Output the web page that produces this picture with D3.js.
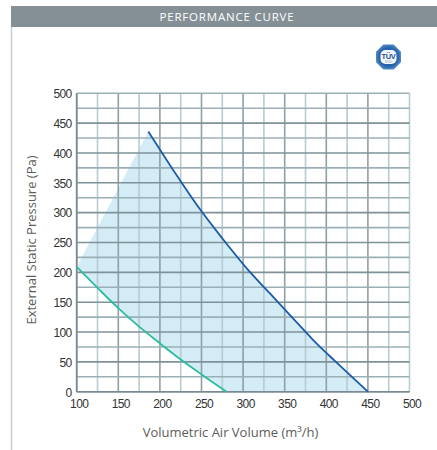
<!DOCTYPE html>
<html><head><meta charset="utf-8">
<script src="https://cdn.jsdelivr.net/npm/d3@7"></script>
<style>
html,body{margin:0;padding:0;background:#fff;}
svg{display:block;}
</style></head>
<body>
<svg id="chart" width="437" height="450"></svg>
<script>
const chartTitle = "PERFORMANCE CURVE";
const xTitle = "Volumetric Air Volume (m³/h)";
const yTitle = "External Static Pressure (Pa)";
const xTickLabels = [100,150,200,250,300,350,400,450,500];
const yTickLabels = [0,50,100,150,200,250,300,350,400,450,500];
const gridStep = 25;
// upper curve (max speed)
const maxFlow = [186,200,220,248,275,306,332,360,384,410,450];
const maxPressure = [436,406,363,306,257,204,165,123,87,52,0];
// lower curve (min speed)
const minFlow = [100,125,150,175,200,225,250,280];
const minPressure = [209,174,140,109,81,54,29,0];

(function(){
const svg = d3.select("#chart");
const W = 437, H = 450;
const pL = 76.7, pR = 409.5, pT = 93.3, pB = 391.7;

const x = d3.scaleLinear().domain([100,500]).range([pL,pR]);
const y = d3.scaleLinear().domain([0,500]).range([pB,pT]);

// header bar
svg.append("rect").attr("x",11).attr("y",6).attr("width",W-11).attr("height",21).attr("fill","#848f96");
svg.append("text").attr("x",227).attr("y",20.5).attr("text-anchor","middle")
  .attr("font-family","'Open Sans', sans-serif").attr("font-size",11.5).attr("fill","#fff")
  .attr("letter-spacing","0.8").text(chartTitle);
// left border
svg.append("line").attr("x1",11.5).attr("x2",11.5).attr("y1",27).attr("y2",H)
  .attr("stroke","#c5cdd1").attr("stroke-width",1.5);

// badge
const bx = 388.5, by = 57, br = 13.5;
const oct = d3.range(8).map(i => {
  const a = Math.PI/8 + i*Math.PI/4;
  return [bx + br*Math.cos(a), by + br*Math.sin(a)];
});
const defs = svg.append("defs");
const grad = defs.append("radialGradient").attr("id","bg").attr("cx","50%").attr("cy","50%").attr("r","55%");
grad.append("stop").attr("offset","0%").attr("stop-color","#1a5296");
grad.append("stop").attr("offset","70%").attr("stop-color","#2a66ad");
grad.append("stop").attr("offset","100%").attr("stop-color","#5d92cc");
svg.append("polygon").attr("points",oct.map(p=>p.join(",")).join(" ")).attr("fill","url(#bg)");
svg.append("rect").attr("x",bx-8).attr("y",by-7).attr("width",16).attr("height",14).attr("rx",5)
  .attr("fill","#f4f7fb");
svg.append("text").attr("x",bx).attr("y",by+1.5).attr("text-anchor","middle")
  .attr("font-family","'Liberation Sans', Arial, sans-serif").attr("font-weight","bold")
  .attr("font-size",7.5).attr("fill","#1b4f8f").attr("letter-spacing","-0.4").text("TÜV");
svg.append("text").attr("x",bx).attr("y",by+5.8).attr("text-anchor","middle")
  .attr("font-family","'Liberation Sans', Arial, sans-serif")
  .attr("font-size",3.5).attr("fill","#8aa0b8").text("SÜD");

// fill region
const lineGen = d3.line().x(d=>x(d[0])).y(d=>y(d[1])).curve(d3.curveCatmullRom.alpha(0.5));
const minPts = minFlow.map((f,i)=>[f,minPressure[i]]);
const maxPts = maxFlow.map((f,i)=>[f,maxPressure[i]]);
const maxRev = maxPts.slice().reverse();
const fillPath = lineGen(minPts) + "L" + lineGen(maxRev).slice(1) + "Z";
svg.append("path").attr("d",fillPath).attr("fill","#d4ecf6").attr("stroke","none");

// grid
const gx = d3.range(100,500+1,gridStep);
const gy = d3.range(0,500+1,gridStep);
const grid = svg.append("g");
gx.forEach(v=>{
  const major = v%50===0 && v!==500;
  grid.append("line").attr("x1",x(v)).attr("x2",x(v)).attr("y1",pT).attr("y2",pB)
    .attr("stroke", major ? "#8e9fa5" : "#b8cbd1").attr("stroke-width",1.6);
});
gy.forEach(v=>{
  const major = v%50===0 && v!==500;
  grid.append("line").attr("x1",pL).attr("x2",pR).attr("y1",y(v)).attr("y2",y(v))
    .attr("stroke", major ? "#7e9298" : "#9bb0b6").attr("stroke-width",1.6);
});
// axes lines
svg.append("line").attr("x1",pL).attr("x2",pL).attr("y1",pT).attr("y2",pB)
  .attr("stroke","#7a8a90").attr("stroke-width",1.6);
svg.append("line").attr("x1",pL).attr("x2",pR).attr("y1",pB).attr("y2",pB)
  .attr("stroke","#7a8a90").attr("stroke-width",1.6);

// curves
svg.append("path").attr("d",lineGen(minPts)).attr("fill","none").attr("stroke","#2bbd9c").attr("stroke-width",1.8);
svg.append("path").attr("d",lineGen(maxPts)).attr("fill","none").attr("stroke","#1b5ca8").attr("stroke-width",1.8);

// axes with d3
const tickFont = "'Liberation Sans', Arial, sans-serif";
const yAxis = d3.axisLeft(y).tickValues(yTickLabels).tickSize(0).tickPadding(5);
const ya = svg.append("g").attr("transform",`translate(${pL},0)`).call(yAxis);
ya.select(".domain").remove();
ya.selectAll("text").attr("font-family",tickFont).attr("font-size",12).attr("fill","#333")
  .attr("letter-spacing","-0.6").attr("dy","0.36em");
const xAxis = d3.axisBottom(x).tickValues(xTickLabels).tickSize(0).tickPadding(8);
const xa = svg.append("g").attr("transform",`translate(0,${pB})`).call(xAxis);
xa.select(".domain").remove();
xa.selectAll("text").attr("font-family",tickFont).attr("font-size",12).attr("fill","#333")
  .attr("letter-spacing","-0.6").attr("dx","2");

// titles
svg.append("text").attr("x",230.5).attr("y",437).attr("text-anchor","middle")
  .attr("font-family","'Open Sans', sans-serif").attr("font-size",13).attr("fill","#5c5c5c")
  .text(xTitle);
svg.append("text").attr("transform","translate(36,240) rotate(-90)").attr("text-anchor","middle")
  .attr("font-family","'Open Sans', sans-serif").attr("font-size",13).attr("fill","#5c5c5c")
  .text(yTitle);
})();
</script>
</body></html>
